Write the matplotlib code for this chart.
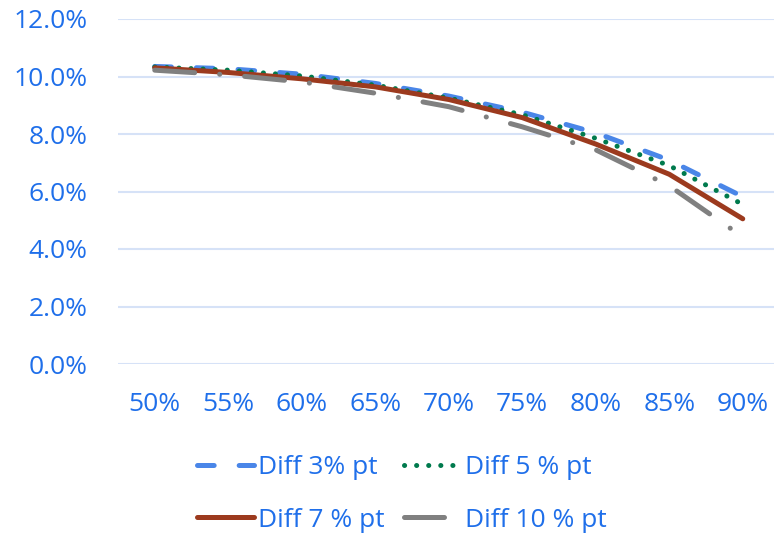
import matplotlib
matplotlib.use("Agg")
import matplotlib.pyplot as plt

# Categories and series (values in %)
categories = ["50%", "55%", "60%", "65%", "70%", "75%", "80%", "85%", "90%"]
diff_3 = [10.35, 10.27, 10.08, 9.76, 9.32, 8.76, 8.04, 7.09, 5.82]
diff_5 = [10.33, 10.22, 10.02, 9.70, 9.25, 8.67, 7.85, 6.90, 5.55]
diff_7 = [10.30, 10.14, 9.92, 9.64, 9.20, 8.57, 7.65, 6.60, 5.05]
diff_10 = [10.22, 10.06, 9.81, 9.42, 8.95, 8.25, 7.45, 6.20, 4.42]
series_names = ["Diff 3% pt", "Diff 5 % pt", "Diff 7 % pt", "Diff 10 % pt"]
y_ticks = [0, 2, 4, 6, 8, 10, 12]
y_labels = ["0.0%", "2.0%", "4.0%", "6.0%", "8.0%", "10.0%", "12.0%"]

TEXT = "#1F6FEA"
plt.rcParams["font.family"] = ["Open Sans", "DejaVu Sans"]
plt.rcParams["lines.scale_dashes"] = False

fig = plt.figure(figsize=(7.74, 5.38), dpi=100)
ax = fig.add_axes([118 / 774, 1 - 364 / 538, 656 / 774, 345 / 538])

lw = 3.6
styles = [
    dict(color="#4A86E8", linestyle=(0, (12, 18))),
    dict(color="#007A4D", linestyle=(0, (0.1, 8.6))),
    dict(color="#9C3A1E", linestyle="-"),
    dict(color="#808080", linestyle=(0, (28.8, 18, 0.1, 18))),
]
x = list(range(len(categories)))
handles = []
for vals, name, st in zip([diff_3, diff_5, diff_7, diff_10], series_names, styles):
    line, = ax.plot(x, vals, linewidth=lw, dash_capstyle="round",
                    solid_capstyle="round", label=name, **st)
    handles.append(line)

ax.set_xlim(-0.5, -0.5 + 656 / 73.5)
ax.set_ylim(0, 12)
ax.set_yticks(y_ticks)
ax.set_yticklabels(y_labels)
ax.set_xticks(x)
ax.set_xticklabels(categories)
ax.grid(axis="y", color="#D6E2F7", linewidth=1.5)
ax.set_axisbelow(True)
for s in ax.spines.values():
    s.set_visible(False)
ax.tick_params(axis="both", length=0, labelsize=19, labelcolor=TEXT)
ax.tick_params(axis="y", pad=22)
ax.tick_params(axis="x", pad=20)

# legend fills column-wise, so order handles to read row by row
order = [0, 2, 1, 3]
leg = fig.legend(handles=[handles[i] for i in order], loc="center",
                 bbox_to_anchor=(0.519, 1 - 494 / 538),
                 ncol=2, frameon=False, fontsize=19, handlelength=2.16,
                 handletextpad=0.15, columnspacing=0.75, labelspacing=1.04,
                 borderpad=0)
for t in leg.get_texts():
    t.set_color(TEXT)

fig.savefig("out.png", dpi=100)
